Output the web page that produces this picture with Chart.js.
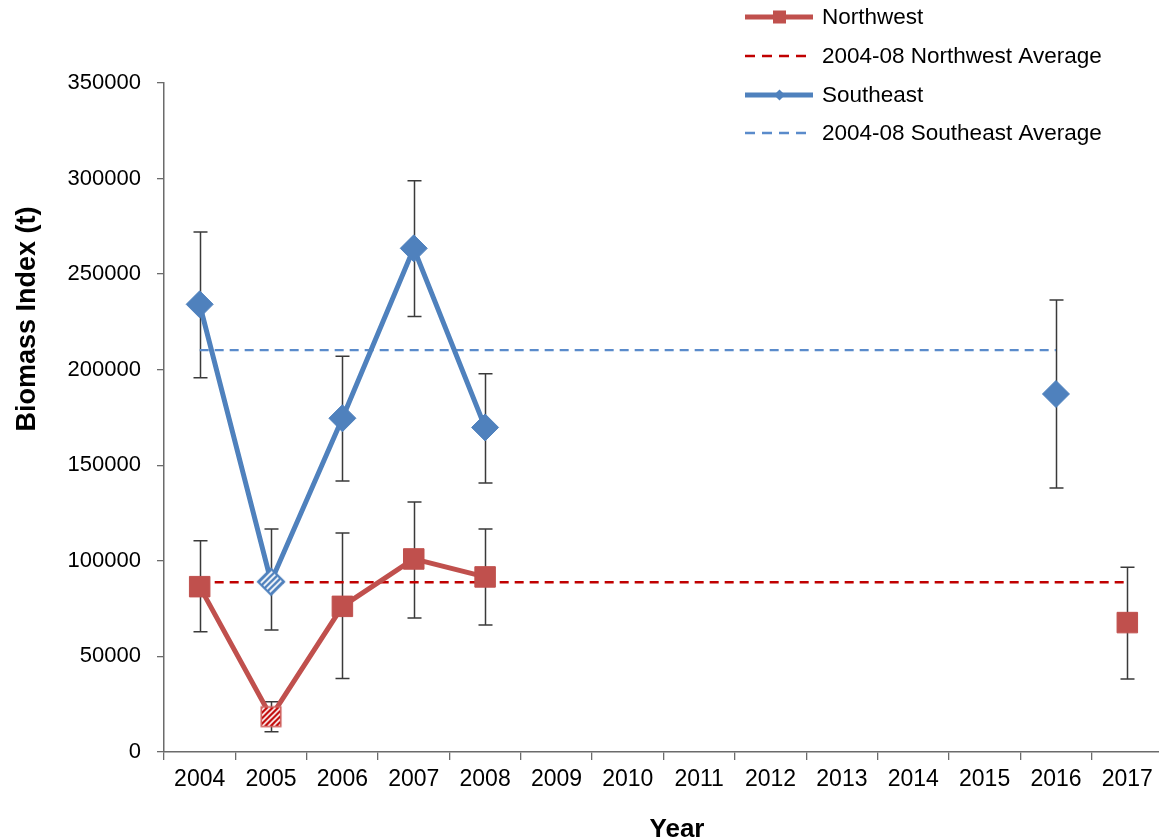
<!DOCTYPE html>
<html>
<head>
<meta charset="utf-8">
<title>Biomass Index</title>
<script src="https://cdn.jsdelivr.net/npm/chart.js@4.4.1/dist/chart.umd.min.js"></script>
<style>
  html, body { margin: 0; padding: 0; background: #fff; overflow: hidden; }
  #chart { display: block; }
</style>
</head>
<body>
<canvas id="chart" width="1164" height="840"></canvas>
<script>
// Survey years on the category axis
const years = ['2004', '2005', '2006', '2007', '2008', '2009', '2010', '2011',
               '2012', '2013', '2014', '2015', '2016', '2017'];

// Northwest biomass index (t) with error bar limits
const northwest      = [86500, 18500, 76200, 101000, 91600, null, null, null, null, null, null, null, null, 67700];
const northwestUpper = [110500, 26300, 114600, 130800, 116700, null, null, null, null, null, null, null, null, 96600];
const northwestLower = [62900, 10600, 38400, 70100, 66400, null, null, null, null, null, null, null, null, 38200];

// Southeast biomass index (t) with error bar limits
const southeast      = [234200, 89100, 174600, 263500, 169800, null, null, null, null, null, null, null, 187300, null];
const southeastUpper = [272000, 116700, 207000, 298900, 197900, null, null, null, null, null, null, null, 236500, null];
const southeastLower = [195800, 63800, 141800, 227900, 140700, null, null, null, null, null, null, null, 138100, null];

// 2004-08 reference averages, drawn across the years each region was surveyed
const northwestAverage = [88800, 88800, 88800, 88800, 88800, 88800, 88800, 88800, 88800, 88800, 88800, 88800, 88800, 88800];
const southeastAverage = [210200, 210200, 210200, 210200, 210200, 210200, 210200, 210200, 210200, 210200, 210200, 210200, 210200, null];

// Y axis ticks
const yTicks = [0, 50000, 100000, 150000, 200000, 250000, 300000, 350000];

// Year drawn with a hatched (open) marker
const hatchedYear = '2005';

const FONT = "'Liberation Sans', Arial, sans-serif";
const NW_COLOR = '#C0504D';
const NW_AVG_COLOR = '#C00000';
const SE_COLOR = '#4F81BD';
const SE_AVG_COLOR = '#5A8BCB';
const ERR_COLOR = '#3a3a3a';

// Hatched marker images
function hatchedSquare(side, border, stripe) {
  const c = document.createElement('canvas');
  const size = Math.ceil(side + 4);
  c.width = size; c.height = size;
  const g = c.getContext('2d');
  const o = (size - side) / 2;
  g.fillStyle = '#fff';
  g.fillRect(o, o, side, side);
  g.save();
  g.beginPath(); g.rect(o, o, side, side); g.clip();
  g.strokeStyle = stripe; g.lineWidth = 2.2;
  for (let k = -size; k < size * 2; k += 5.5) {
    g.beginPath(); g.moveTo(k, size); g.lineTo(k + size, 0); g.stroke();
  }
  g.restore();
  g.strokeStyle = border; g.lineWidth = 1.6;
  g.strokeRect(o, o, side, side);
  return c;
}

function hatchedDiamond(half, border, stripe) {
  const c = document.createElement('canvas');
  const size = Math.ceil(half * 2 + 4);
  c.width = size; c.height = size;
  const g = c.getContext('2d');
  const m = size / 2;
  const path = () => {
    g.beginPath();
    g.moveTo(m - half, m); g.lineTo(m, m - half); g.lineTo(m + half, m); g.lineTo(m, m + half);
    g.closePath();
  };
  path(); g.fillStyle = '#fff'; g.fill();
  g.save(); path(); g.clip();
  g.strokeStyle = stripe; g.lineWidth = 2.4;
  for (let k = -size; k < size * 2; k += 6) {
    g.beginPath(); g.moveTo(k, size); g.lineTo(k + size, 0); g.stroke();
  }
  g.restore();
  path(); g.strokeStyle = border; g.lineWidth = 2.2; g.stroke();
  return c;
}

const nwHatched = hatchedSquare(19.5, '#D0625F', NW_AVG_COLOR);
const seHatched = hatchedDiamond(13, SE_COLOR, SE_COLOR);
const hatchIdx = years.indexOf(hatchedYear);

// Error bars, drawn underneath the series
const errorBars = {
  id: 'errorBars',
  beforeDatasetsDraw(chart) {
    const { ctx, scales: { x, y } } = chart;
    const sets = [[northwestUpper, northwestLower], [southeastUpper, southeastLower]];
    ctx.save();
    ctx.strokeStyle = ERR_COLOR;
    ctx.lineWidth = 1.5;
    for (const [up, lo] of sets) {
      up.forEach((u, i) => {
        if (u == null || lo[i] == null) return;
        const px = Math.round(x.getPixelForValue(i)) + 0.5;
        const yt = y.getPixelForValue(u);
        const yb = y.getPixelForValue(lo[i]);
        ctx.beginPath();
        ctx.moveTo(px, yt); ctx.lineTo(px, yb);
        ctx.moveTo(px - 7, yt); ctx.lineTo(px + 7, yt);
        ctx.moveTo(px - 7, yb); ctx.lineTo(px + 7, yb);
        ctx.stroke();
      });
    }
    ctx.restore();
  }
};

// Legend block at the top right and the two axis titles
const annotations = {
  id: 'annotations',
  afterDraw(chart) {
    const ctx = chart.ctx;
    ctx.save();
    const x0 = 745, x1 = 813, tx = 822;
    const rows = [17, 56, 95, 133];
    ctx.font = '22.5px ' + FONT;
    ctx.fillStyle = '#000';
    ctx.textBaseline = 'middle';
    ctx.textAlign = 'left';
    const labels = chart.data.datasets.map(d => d.label);

    // Northwest
    ctx.strokeStyle = NW_COLOR; ctx.lineWidth = 5; ctx.setLineDash([]);
    ctx.beginPath(); ctx.moveTo(x0, rows[0]); ctx.lineTo(x1, rows[0]); ctx.stroke();
    ctx.fillStyle = NW_COLOR; ctx.fillRect(773, rows[0] - 6.5, 13, 13);
    // Northwest average
    ctx.strokeStyle = NW_AVG_COLOR; ctx.lineWidth = 2.5; ctx.setLineDash([10, 7]);
    ctx.beginPath(); ctx.moveTo(x0, rows[1]); ctx.lineTo(x1, rows[1]); ctx.stroke();
    // Southeast
    ctx.setLineDash([]);
    ctx.strokeStyle = SE_COLOR; ctx.lineWidth = 5;
    ctx.beginPath(); ctx.moveTo(x0, rows[2]); ctx.lineTo(x1, rows[2]); ctx.stroke();
    ctx.fillStyle = SE_COLOR;
    ctx.beginPath();
    ctx.moveTo(774, rows[2]); ctx.lineTo(779.5, rows[2] - 5.5); ctx.lineTo(785, rows[2]); ctx.lineTo(779.5, rows[2] + 5.5);
    ctx.closePath(); ctx.fill();
    // Southeast average
    ctx.strokeStyle = SE_AVG_COLOR; ctx.lineWidth = 2.5; ctx.setLineDash([10, 7]);
    ctx.beginPath(); ctx.moveTo(x0, rows[3]); ctx.lineTo(x1, rows[3]); ctx.stroke();
    ctx.setLineDash([]);

    ctx.fillStyle = '#000';
    labels.forEach((t, i) => ctx.fillText(t, tx, rows[i] + 1));

    // Axis titles
    ctx.font = 'bold 26px ' + FONT;
    ctx.textAlign = 'center';
    ctx.textBaseline = 'alphabetic';
    ctx.fillText('Year', 677, 837);
    ctx.font = 'bold 27px ' + FONT;
    ctx.translate(35, 319);
    ctx.rotate(-Math.PI / 2);
    ctx.fillText('Biomass Index (t)', 0, 0);
    ctx.restore();
  }
};

new Chart(document.getElementById('chart'), {
  type: 'line',
  data: {
    labels: years,
    datasets: [
      {
        label: 'Northwest',
        data: northwest,
        borderColor: NW_COLOR,
        backgroundColor: NW_COLOR,
        borderWidth: 5,
        pointStyle: c => c.dataIndex === hatchIdx ? nwHatched : 'rect',
        pointRadius: 14.5,
        pointBackgroundColor: NW_COLOR,
        pointBorderColor: NW_COLOR,
        pointBorderWidth: 1,
        spanGaps: false,
        order: 1
      },
      {
        label: '2004-08 Northwest Average',
        data: northwestAverage,
        borderColor: NW_AVG_COLOR,
        borderWidth: 2.5,
        borderDash: [9, 6],
        pointRadius: 0,
        order: 3
      },
      {
        label: 'Southeast',
        data: southeast,
        borderColor: SE_COLOR,
        backgroundColor: SE_COLOR,
        borderWidth: 5,
        pointStyle: c => c.dataIndex === hatchIdx ? seHatched : 'rectRot',
        pointRadius: 13.5,
        pointBackgroundColor: SE_COLOR,
        pointBorderColor: SE_COLOR,
        pointBorderWidth: 1,
        spanGaps: false,
        order: 0
      },
      {
        label: '2004-08 Southeast Average',
        data: southeastAverage,
        borderColor: SE_AVG_COLOR,
        borderWidth: 2.2,
        borderDash: [9, 6],
        pointRadius: 0,
        order: 2
      }
    ]
  },
  options: {
    responsive: false,
    animation: false,
    events: [],
    devicePixelRatio: 1,
    layout: { autoPadding: false, padding: { top: 83, left: 0, right: 1, bottom: 0 } },
    plugins: {
      legend: { display: false },
      tooltip: { enabled: false },
      title: { display: false }
    },
    scales: {
      x: {
        type: 'category',
        offset: true,
        grid: {
          offset: true,
          drawOnChartArea: false,
          drawTicks: true,
          tickLength: 8,
          color: '#6b6b6b',
          lineWidth: 1.3
        },
        border: { display: true, color: '#6b6b6b', width: 1.5 },
        ticks: {
          color: '#000',
          font: { family: FONT, size: 23 },
          padding: 6,
          maxRotation: 0,
          autoSkip: false
        },
        afterFit(scale) {
          scale.height = 88;
          scale.paddingLeft = 0;
          scale.paddingRight = 0;
        }
      },
      y: {
        min: 0,
        max: 350000,
        afterBuildTicks(scale) { scale.ticks = yTicks.map(v => ({ value: v })); },
        grid: {
          drawOnChartArea: false,
          drawTicks: true,
          tickLength: 7,
          color: '#6b6b6b',
          lineWidth: 1.3
        },
        border: { display: true, color: '#6b6b6b', width: 1.5 },
        ticks: {
          color: '#000',
          font: { family: FONT, size: 22 },
          padding: 16,
          callback: v => String(v)
        },
        afterFit(scale) {
          scale.width = 164;
          scale.paddingTop = 0;
          scale.paddingBottom = 0;
        }
      }
    }
  },
  plugins: [errorBars, annotations]
});
</script>
</body>
</html>
